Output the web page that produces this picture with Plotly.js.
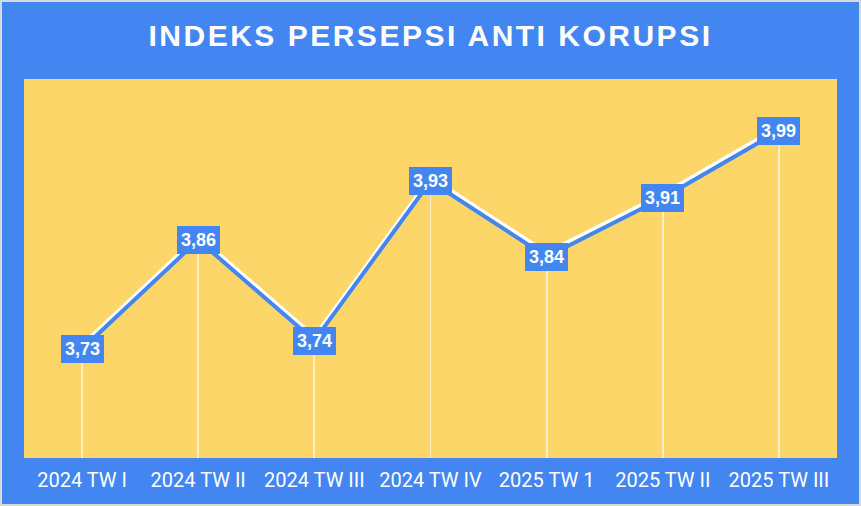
<!DOCTYPE html>
<html>
<head>
<meta charset="utf-8">
<script src="https://cdn.plot.ly/plotly-3.0.1.min.js"></script>
<style>
  html, body { margin: 0; padding: 0; background: #ffffff; }
  #wrap { position: relative; width: 861px; height: 506px; }
  #chart { width: 861px; height: 506px; }
  #frame { position: absolute; left: 0; top: 0; width: 857px; height: 502px; border: 2px solid #d9d9d9; pointer-events: none; }
  .gtitle { letter-spacing: 2.5px; }
</style>
</head>
<body>
<div id="wrap"><div id="chart"></div><div id="frame"></div></div>
<script>
const categories = ["2024 TW I", "2024 TW II", "2024 TW III", "2024 TW IV", "2025 TW 1", "2025 TW II", "2025 TW III"];
const values = [3.73, 3.86, 3.74, 3.93, 3.84, 3.91, 3.99];
const valueLabels = ["3,73", "3,86", "3,74", "3,93", "3,84", "3,91", "3,99"];

const BLUE = "#4386F1";
const YELLOW = "#FDD66A";
const yRange = [3.6, 4.052];
const shadowShift = 0.005;

const traces = [
  {
    type: "bar", x: categories, y: values, yaxis: "y2",
    width: 0.017, marker: { color: "rgba(255,255,255,0.6)", line: { width: 0 } },
    hoverinfo: "skip", showlegend: false
  },
  {
    type: "scatter", mode: "lines", x: categories, y: values, yaxis: "y",
    line: { color: "#ffffff", width: 3.5 }, hoverinfo: "skip", showlegend: false
  },
  {
    type: "scatter", mode: "lines", x: categories, y: values, yaxis: "y2",
    line: { color: BLUE, width: 4 }, hoverinfo: "skip", showlegend: false
  }
];

const annotations = categories.map((c, i) => ({
  x: c, y: values[i], xref: "x", yref: "y2",
  text: valueLabels[i], showarrow: false,
  bgcolor: BLUE, borderpad: 4, borderwidth: 0,
  font: { family: "Arial, Liberation Sans, sans-serif", size: 18, color: "#ffffff", weight: "bold" },
  xanchor: "center", yanchor: "middle"
}));

const layout = {
  width: 861, height: 506,
  paper_bgcolor: BLUE, plot_bgcolor: YELLOW,
  margin: { l: 24, r: 24, t: 79, b: 48 },
  title: {
    text: "INDEKS PERSEPSI ANTI KORUPSI",
    font: { family: "Arial, Liberation Sans, sans-serif", size: 30, color: "#ffffff", weight: "bold" },
    x: 0.5, xanchor: "center", y: 0.93, yanchor: "middle", yref: "container"
  },
  xaxis: {
    type: "category", range: [-0.5, 6.5], showgrid: false, zeroline: false, showline: false,
    ticks: "", tickfont: { family: "Roboto, Arial, sans-serif", size: 20, color: "#ffffff" },
    ticklabelstandoff: 8, fixedrange: true
  },
  yaxis: {
    range: [yRange[0] - shadowShift, yRange[1] - shadowShift],
    showgrid: false, zeroline: false, showline: false, showticklabels: false, ticks: "", fixedrange: true
  },
  yaxis2: {
    range: yRange, overlaying: "y",
    showgrid: false, zeroline: false, showline: false, showticklabels: false, ticks: "", fixedrange: true
  },
  annotations: annotations,
  showlegend: false,
  bargap: 0
};

Plotly.newPlot("chart", traces, layout, { displayModeBar: false, staticPlot: true });
</script>
</body>
</html>
